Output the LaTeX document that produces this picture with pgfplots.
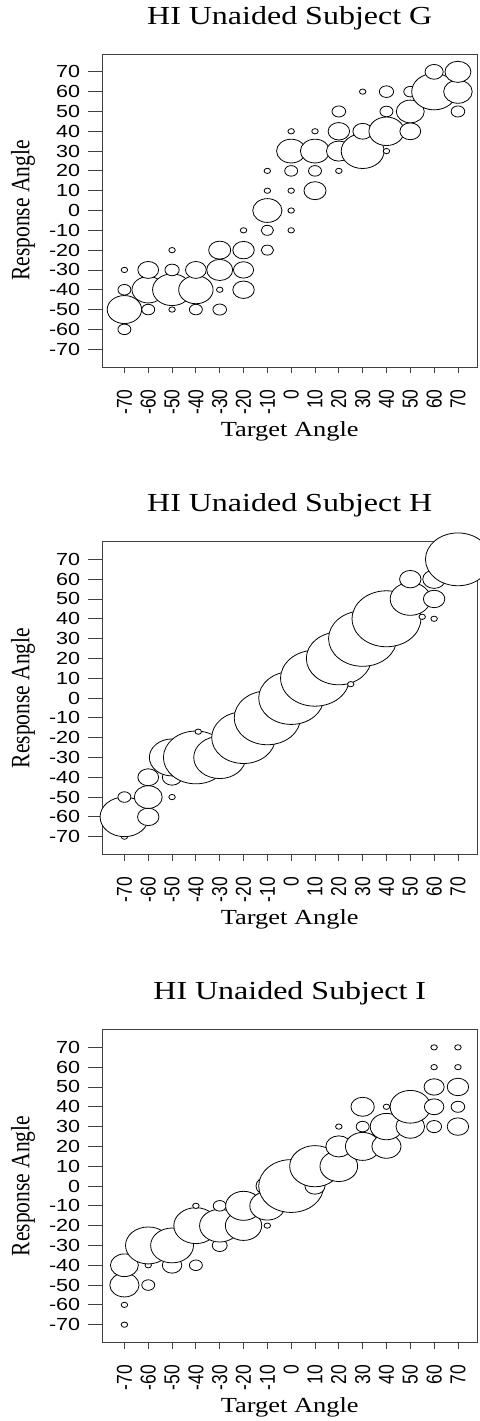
\documentclass[border=0pt]{standalone}
\usepackage{fontspec}
\setmainfont{Liberation Serif}
\newfontfamily\arial{Liberation Sans}
\usepackage{pgfplots}
\usepackage{pgfplotstable}
\pgfplotsset{compat=1.18}

\pgfplotstableread{
x y n
-70 -60 2
-70 -50 5.3
-70 -40 2
-70 -30 1
-60 -50 2
-60 -40 5
-60 -30 3.2
-50 -50 1
-50 -40 6
-50 -30 2.2
-50 -20 1
-40 -50 2
-40 -40 5.3
-40 -30 3.2
-30 -50 2.1
-30 -40 1
-30 -30 4
-30 -20 3.4
-20 -40 3.3
-20 -30 3.1
-20 -20 3.3
-20 -10 1
-10 -20 1.9
-10 -10 1.9
-10 0 4.5
-10 10 1
-10 20 1
0 -10 1
0 0 1
0 10 1
0 20 2
0 30 4.5
0 40 1
10 10 3.4
10 20 2
10 30 4.5
10 40 1
20 20 1
20 30 3.8
20 40 3.3
20 50 2.1
30 30 6.6
30 40 3
30 60 1
40 30 1
40 40 5.4
40 50 2
40 60 2.2
50 40 3.2
50 50 4.3
50 60 2
60 60 6.9
60 70 2.8
70 50 2.1
70 60 4.4
70 70 4
}\dataG

\pgfplotstableread{
x y n
-70 -70 1
-70 -60 7.5
-70 -50 2
-60 -60 3.3
-60 -50 4.3
-60 -40 3.2
-50 -50 1
-50 -40 3
-50 -30 7
-40 -30 10
-39 -17 1
-30 -30 8
-20 -20 9.8
-10 -10 10.2
0 0 10
10 10 10.6
20 20 10
25 7 1
30 30 10.5
40 40 10.6
50 50 6.2
50 60 3.3
55 41 1
60 40 1
60 50 3.3
60 60 3.5
70 70 10
}\dataH

\pgfplotstableread{
x y n
-70 -70 1
-70 -60 1
-70 -50 4.5
-70 -40 4.3
-60 -50 2
-60 -40 1
-60 -30 7
-50 -40 3
-50 -30 6.6
-40 -40 2
-40 -20 6.8
-40 -10 1
-30 -30 2.3
-30 -20 6.2
-30 -10 2
-20 -20 5.6
-20 -10 5.5
-10 -20 1
-10 -10 5.4
-10 0 3.5
0 0 10
10 0 3.1
10 10 7.8
20 10 5.8
20 20 4
20 30 1
30 20 5.3
30 30 2
30 40 3.6
40 20 4.5
40 30 5
40 40 1
50 30 4.4
50 40 6.2
60 30 2.3
60 40 3
60 50 3.1
60 60 1
60 70 1
70 30 3.3
70 40 2.1
70 50 3.3
70 60 1
70 70 1
}\dataI

\pgfplotsset{
  bub/.style={scatter, only marks, mark=*, point meta=\thisrow{n},
    scatter/use mapped color={draw=black, fill=white},
    visualization depends on={2.65*\thisrow{n} \as \rad},
    scatter/@pre marker code/.append style={/tikz/mark size=\rad},
    mark options={xscale=1.23, line width=0.8pt}},
  panel/.style={
    width=374.5bp, height=313bp, scale only axis, clip=false,
    anchor=south west,
    xmin=-79.2, xmax=78, ymin=-79, ymax=79,
    xtick={-70,-60,-50,-40,-30,-20,-10,0,10,20,30,40,50,60,70},
    ytick={-70,-60,-50,-40,-30,-20,-10,0,10,20,30,40,50,60,70},
    minor ytick={-69.99,-59.99,-49.99,-39.99,-29.99,-19.99,-9.99,0.01,10.01,20.01,30.01,40.01,50.01,60.01,70.01},
    xticklabels={-70,-60,-50,-40,-30,-20,-10,0,10,20,30,40,50,60,70},
    yticklabels={-70,-60,-50,-40,-30,-20,-10,0,10,20,30,40,50,60,70},
    major tick length=6bp, minor tick length=14bp,
    tick align=outside, tick pos=left,
    every tick/.style={line width=0.8bp, black!75},
    axis line style={line width=0.9bp, black!75},
    xticklabel shift=13bp,
    xticklabel style={font=\arial\fontsize{17.5bp}{18bp}\selectfont, rotate=90, yscale=1.23, anchor=east},
    yticklabel style={font=\arial\fontsize{17.5bp}{18bp}\selectfont, xshift=-12bp, xscale=1.23, anchor=east},
    xlabel={Target Angle}, ylabel={Response Angle},
    xlabel style={at={(axis description cs:0.5,-0.2227)}, anchor=base,
      font=\fontsize{21.5bp}{24bp}\selectfont, xscale=1.23},
    ylabel style={at={(axis description cs:-0.195,0.5)}, anchor=base,
      font=\fontsize{21.5bp}{24bp}\selectfont, yscale=1.23},
    title style={at={(axis description cs:0.5,1.0767)}, anchor=base,
      font=\fontsize{26bp}{28bp}\selectfont, xscale=1.23},
  },
}

\begin{document}
\begin{tikzpicture}
\useasboundingbox (0,0) rectangle (480bp,-1421bp);
\begin{axis}[panel, at={(102.5bp,-367bp)}, title={HI Unaided Subject G}]
\addplot[bub] table {\dataG};
\end{axis}
\begin{axis}[panel, at={(102.5bp,-854.5bp)}, title={HI Unaided Subject H}]
\addplot[bub] table {\dataH};
\end{axis}
\begin{axis}[panel, at={(102.5bp,-1342.5bp)}, title={HI Unaided Subject I}]
\addplot[bub] table {\dataI};
\end{axis}
\end{tikzpicture}
\end{document}
